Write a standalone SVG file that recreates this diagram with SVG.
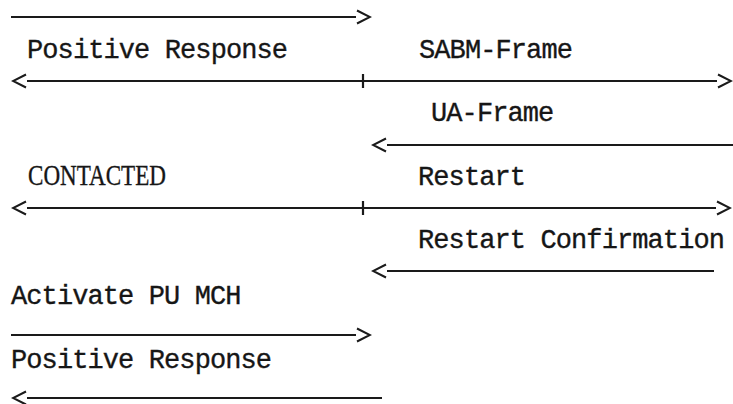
<svg xmlns="http://www.w3.org/2000/svg" width="733" height="404" viewBox="0 0 733 404">
  <style>
    .lbl { font-family: "Liberation Mono", "DejaVu Sans Mono", monospace; font-size: 27px; letter-spacing: -0.9px; fill: #161616; stroke: #161616; stroke-width: 0.35; }
    .serif { font-family: "Liberation Serif", "DejaVu Serif", serif; font-size: 30px; fill: #161616; stroke: #161616; stroke-width: 0.35; }
    .msg { stroke: #1a1a1a; stroke-width: 1.8; fill: none; }
    .tick { stroke: #1a1a1a; stroke-width: 2.2; }
  </style>
  <defs>
    <!-- typewriter-style open chevrons, set just past the end of the line -->
    <marker id="head-r" markerUnits="userSpaceOnUse" markerWidth="18" markerHeight="18" viewBox="-2 -9 18 18" refX="0" refY="0" orient="0">
      <path d="M1,-6.5 L14,0 L1,6.5" fill="none" stroke="#1a1a1a" stroke-width="2"/>
    </marker>
    <marker id="head-l" markerUnits="userSpaceOnUse" markerWidth="18" markerHeight="18" viewBox="-16 -9 18 18" refX="0" refY="0" orient="0">
      <path d="M-1,-6.5 L-14,0 L-1,6.5" fill="none" stroke="#1a1a1a" stroke-width="2"/>
    </marker>
  </defs>
  <rect width="733" height="404" fill="#ffffff"/>

  <g id="connectors">
    <line class="msg" x1="11" y1="17" x2="356" y2="17" marker-end="url(#head-r)"/>
    <line class="msg" x1="27" y1="81" x2="717" y2="81" marker-start="url(#head-l)" marker-end="url(#head-r)"/>
    <line class="tick" x1="363" y1="74" x2="363" y2="88"/>
    <line class="msg" x1="387" y1="145" x2="733" y2="145" marker-start="url(#head-l)"/>
    <line class="msg" x1="27" y1="208" x2="716" y2="208" marker-start="url(#head-l)" marker-end="url(#head-r)"/>
    <line class="tick" x1="363" y1="201" x2="363" y2="215"/>
    <line class="msg" x1="387" y1="271" x2="714" y2="271" marker-start="url(#head-l)"/>
    <line class="msg" x1="11" y1="335" x2="356" y2="335" marker-end="url(#head-r)"/>
    <line class="msg" x1="27" y1="398" x2="382" y2="398" marker-start="url(#head-l)"/>
  </g>

  <g id="positive-response-1"><text class="lbl" x="27" y="58">Positive Response</text></g>
  <g id="sabm-frame"><text class="lbl" x="419" y="58">SABM-Frame</text></g>
  <g id="ua-frame"><text class="lbl" x="431" y="121">UA-Frame</text></g>
  <g id="contacted"><text class="serif" x="28" y="185" textLength="138" lengthAdjust="spacingAndGlyphs">CONTACTED</text></g>
  <g id="restart"><text class="lbl" x="418" y="185">Restart</text></g>
  <g id="restart-confirmation"><text class="lbl" x="418" y="248">Restart Confirmation</text></g>
  <g id="activate-pu-mch"><text class="lbl" x="11" y="304">Activate PU MCH</text></g>
  <g id="positive-response-2"><text class="lbl" x="11" y="368">Positive Response</text></g>
</svg>
